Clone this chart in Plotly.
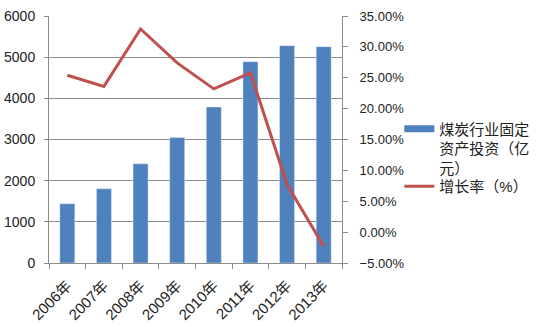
import plotly.graph_objects as go

years = ["2006年", "2007年", "2008年", "2009年", "2010年", "2011年", "2012年", "2013年"]
investment = [1440, 1805, 2410, 3050, 3790, 4890, 5280, 5255]
growth = [0.254, 0.236, 0.329, 0.274, 0.232, 0.258, 0.077, -0.023]

bar_name = "煤炭行业固定<br>资产投资（亿<br>元）"
line_name = "增长率（%）"

BLUE = "#4F81BD"
RED = "#C0504D"
GRID = "#8c8c8c"
FONT = "Liberation Sans, Noto Sans CJK SC, sans-serif"

fig = go.Figure()
fig.add_trace(go.Bar(x=years, y=investment, marker_color=BLUE, width=0.41,
                     showlegend=False, name=bar_name))
# legend entry for bars drawn as a wide swatch
fig.add_trace(go.Scatter(x=[None], y=[None], mode="lines", name=bar_name,
                         line=dict(color=BLUE, width=7), legend="legend"))
fig.add_trace(go.Scatter(x=years, y=growth, mode="lines", name=line_name,
                         line=dict(color=RED, width=3), yaxis="y2",
                         legend="legend2"))

fig.update_layout(
    width=536, height=327,
    margin=dict(l=49, r=194, t=16, b=64, autoexpand=False),
    paper_bgcolor="white", plot_bgcolor="white",
    font=dict(family=FONT, size=14, color="#222"),
    xaxis=dict(type="category", showline=True, linecolor=GRID, linewidth=1,
               ticks="outside", ticklen=5, tickcolor=GRID, tickson="boundaries",
               tickangle=-45, tickfont=dict(size=15), ticklabelstandoff=7,
               showgrid=False, automargin=False),
    yaxis=dict(range=[0, 6000], dtick=1000, showline=True, linecolor=GRID,
               gridcolor=GRID, gridwidth=1, ticks="outside", ticklen=4,
               tickcolor=GRID, tickfont=dict(size=14), ticklabelstandoff=6,
               zeroline=False, automargin=False),
    yaxis2=dict(range=[-0.05, 0.35], dtick=0.05, tickformat=".2%",
                overlaying="y", side="right", showline=True, linecolor=GRID,
                showgrid=False, ticks="outside", ticklen=5, tickcolor=GRID,
                tickfont=dict(size=13), ticklabelstandoff=9, zeroline=False,
                automargin=False),
    legend=dict(xref="container", yref="container", x=0.745, y=0.656,
                xanchor="left", yanchor="top", valign="top",
                font=dict(size=15, family=FONT), bgcolor="rgba(0,0,0,0)"),
    legend2=dict(xref="container", yref="container", x=0.745, y=0.43,
                 xanchor="left", yanchor="middle",
                 font=dict(size=15, family=FONT), bgcolor="rgba(0,0,0,0)"),
)

fig.write_html("out.html")
